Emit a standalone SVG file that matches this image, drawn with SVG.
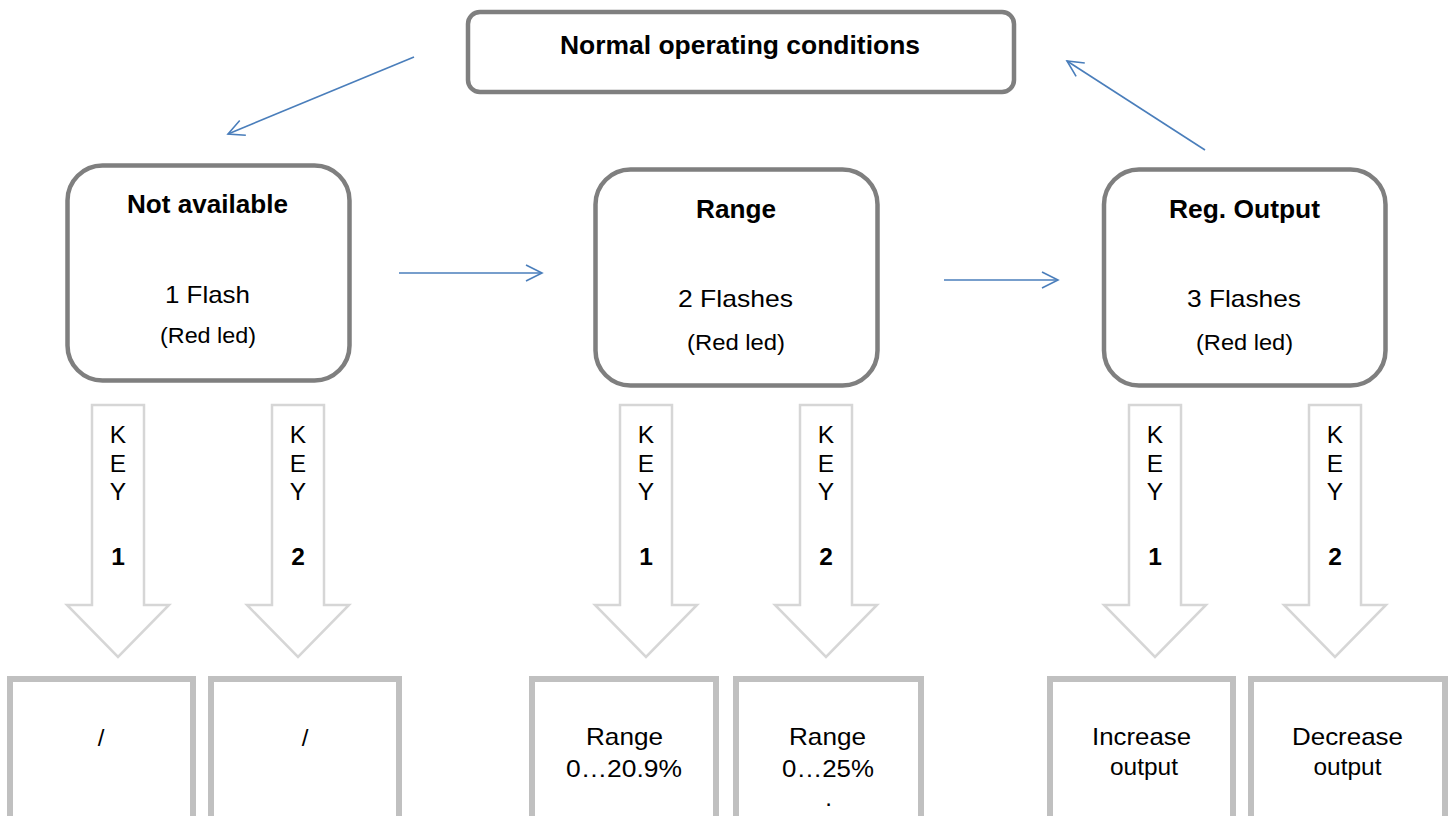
<svg xmlns="http://www.w3.org/2000/svg" width="1453" height="816" viewBox="0 0 1453 816">
<style>
text{font-family:"Liberation Sans",Arial,sans-serif;fill:#000;text-anchor:middle}
.b{font-weight:bold;font-size:25px}
.m{font-size:24px}
.s{font-size:21.5px}
.k{font-size:24.5px}
.node{fill:#fff;stroke:#7f7f7f;stroke-width:4.5}
.res{fill:#fff;stroke:#c0c0c0;stroke-width:6}
.key{fill:#fff;stroke:#d6d6d6;stroke-width:2.5}
.conn{stroke:#4a7ebb;stroke-width:1.6;fill:none;marker-end:url(#ah)}
</style>
<defs>
<marker id="ah" viewBox="0 0 20 20" refX="18" refY="10" markerWidth="20" markerHeight="20" markerUnits="userSpaceOnUse" orient="auto">
<path d="M2,2 L18,10 L2,18" fill="none" stroke="#4a7ebb" stroke-width="1.6"/>
</marker>
<path id="karrow" d="M-26,0 H26 V200 H51 L0,252 L-51,200 H-26 Z"/>
</defs>
<rect width="1453" height="816" fill="#fff"/>

<g id="connectors">
<line class="conn" x1="414" y1="57" x2="228" y2="134"/>
<line class="conn" x1="399" y1="273" x2="542" y2="273"/>
<line class="conn" x1="944" y1="280" x2="1058" y2="280"/>
<line class="conn" x1="1205" y1="150" x2="1067" y2="61"/>
</g>

<g id="normal">
<rect class="node" x="468" y="12" width="546" height="80" rx="12"/>
<text class="b" x="740" y="54" textLength="360" lengthAdjust="spacingAndGlyphs">Normal operating conditions</text>
</g>

<g id="not-available">
<rect class="node" x="67.5" y="165.5" width="282" height="215" rx="35"/>
<text class="b" x="207.5" y="213" textLength="161" lengthAdjust="spacingAndGlyphs">Not available</text>
<text class="m" x="207.5" y="303" textLength="85" lengthAdjust="spacingAndGlyphs">1 Flash</text>
<text class="s" x="208" y="343" textLength="96" lengthAdjust="spacingAndGlyphs">(Red led)</text>
</g>

<g id="range">
<rect class="node" x="595.5" y="169.5" width="282" height="216" rx="35"/>
<text class="b" x="736" y="218" textLength="80" lengthAdjust="spacingAndGlyphs">Range</text>
<text class="m" x="735.5" y="307" textLength="115" lengthAdjust="spacingAndGlyphs">2 Flashes</text>
<text class="s" x="736" y="350" textLength="98" lengthAdjust="spacingAndGlyphs">(Red led)</text>
</g>

<g id="reg-output">
<rect class="node" x="1104" y="169.5" width="281.5" height="216" rx="35"/>
<text class="b" x="1244.5" y="218" textLength="151" lengthAdjust="spacingAndGlyphs">Reg. Output</text>
<text class="m" x="1244" y="307" textLength="114" lengthAdjust="spacingAndGlyphs">3 Flashes</text>
<text class="s" x="1244.5" y="350" textLength="97" lengthAdjust="spacingAndGlyphs">(Red led)</text>
</g>

<g id="key-arrows">
<g id="na-key1"><use href="#karrow" class="key" x="118" y="405"/><text class="k" x="118" y="443">K</text><text class="k" x="118" y="472">E</text><text class="k" x="118" y="500">Y</text><text class="k" font-weight="bold" x="118" y="565">1</text></g>
<g id="na-key2"><use href="#karrow" class="key" x="298" y="405"/><text class="k" x="298" y="443">K</text><text class="k" x="298" y="472">E</text><text class="k" x="298" y="500">Y</text><text class="k" font-weight="bold" x="298" y="565">2</text></g>
<g id="r-key1"><use href="#karrow" class="key" x="646" y="405"/><text class="k" x="646" y="443">K</text><text class="k" x="646" y="472">E</text><text class="k" x="646" y="500">Y</text><text class="k" font-weight="bold" x="646" y="565">1</text></g>
<g id="r-key2"><use href="#karrow" class="key" x="826" y="405"/><text class="k" x="826" y="443">K</text><text class="k" x="826" y="472">E</text><text class="k" x="826" y="500">Y</text><text class="k" font-weight="bold" x="826" y="565">2</text></g>
<g id="o-key1"><use href="#karrow" class="key" x="1155" y="405"/><text class="k" x="1155" y="443">K</text><text class="k" x="1155" y="472">E</text><text class="k" x="1155" y="500">Y</text><text class="k" font-weight="bold" x="1155" y="565">1</text></g>
<g id="o-key2"><use href="#karrow" class="key" x="1335" y="405"/><text class="k" x="1335" y="443">K</text><text class="k" x="1335" y="472">E</text><text class="k" x="1335" y="500">Y</text><text class="k" font-weight="bold" x="1335" y="565">2</text></g>
</g>

<g id="res-na1"><rect class="res" x="10" y="679" width="183" height="150"/><text class="m" x="101" y="746">/</text></g>
<g id="res-na2"><rect class="res" x="211" y="679" width="188" height="150"/><text class="m" x="305" y="746">/</text></g>
<g id="res-r1"><rect class="res" x="532" y="679" width="184" height="150"/><text class="m" x="624.5" y="745" textLength="77" lengthAdjust="spacingAndGlyphs">Range</text><text class="m" x="624" y="777" textLength="116" lengthAdjust="spacingAndGlyphs">0…20.9%</text></g>
<g id="res-r2"><rect class="res" x="736" y="679" width="185" height="150"/><text class="m" x="827.5" y="745" textLength="77" lengthAdjust="spacingAndGlyphs">Range</text><text class="m" x="828" y="777" textLength="92" lengthAdjust="spacingAndGlyphs">0…25%</text><text class="m" x="828.5" y="806">.</text></g>
<g id="res-o1"><rect class="res" x="1050" y="679" width="183" height="150"/><text class="m" x="1141.5" y="745" textLength="99" lengthAdjust="spacingAndGlyphs">Increase</text><text class="m" x="1144" y="775" textLength="68" lengthAdjust="spacingAndGlyphs">output</text></g>
<g id="res-o2"><rect class="res" x="1251" y="679" width="194" height="150"/><text class="m" x="1347.5" y="745" textLength="111" lengthAdjust="spacingAndGlyphs">Decrease</text><text class="m" x="1347.5" y="775" textLength="68" lengthAdjust="spacingAndGlyphs">output</text></g>
</svg>
